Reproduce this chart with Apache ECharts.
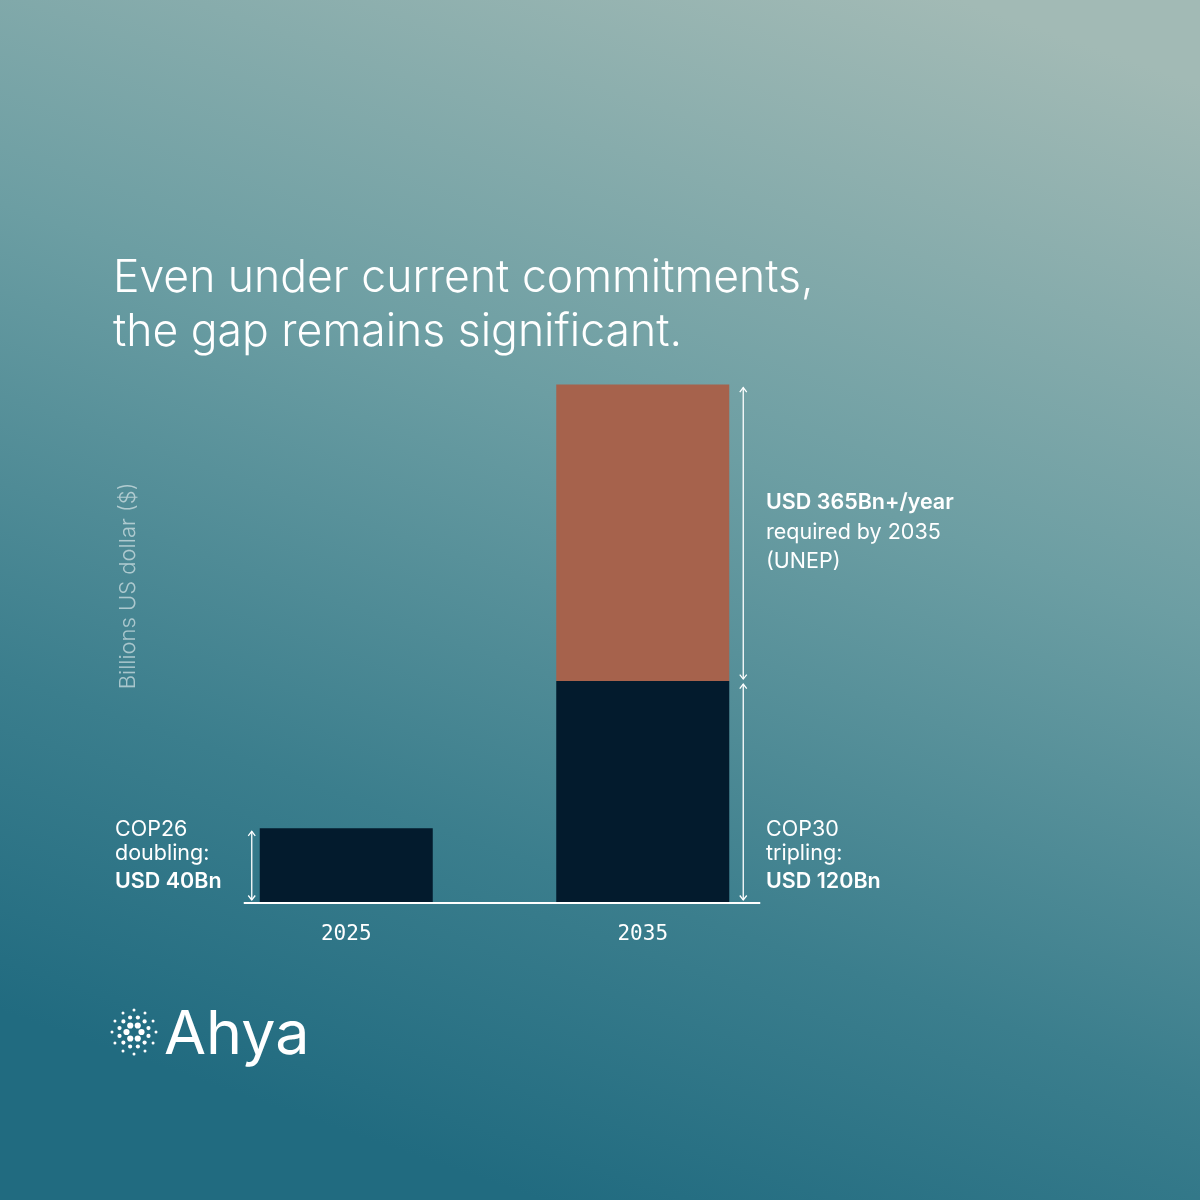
<!DOCTYPE html>
<html>
<head>
<meta charset="utf-8">
<script src="https://cdn.jsdelivr.net/npm/echarts@6/dist/echarts.min.js"></script>
<style>
  html, body { margin: 0; padding: 0; background: #4a8a96; }
  #chart { width: 1200px; height: 1200px; }
</style>
</head>
<body>
<div id="chart"></div>
<script>
// ==================== data ====================
const years = ['2025', '2035'];
const pledged = [40, 120];        // COP26 doubling / COP30 tripling
const shortfall = ['-', 161];     // drawn gap up to the UNEP need (bar as drawn, not to scale)
const titleLines = ['Even under current commitments,', 'the gap remains significant.'];
const yAxisName = 'Billions US dollar ($)';

const BAR_W = 173;
const FONT = 'Inter, "Noto Sans", sans-serif';
const MONO = '"DejaVu Sans Mono", "Liberation Mono", monospace';

// arrow spans derived from the bar data: [category, from, to, side]
const spans = [];
years.forEach((y, i) => {
  const side = i === 0 ? -1 : 1;
  spans.push([i, 0, pledged[i], side]);
  if (shortfall[i] !== '-') spans.push([i, pledged[i], pledged[i] + shortfall[i], side]);
});

const chart = echarts.init(document.getElementById('chart'), null, { renderer: 'canvas' });

function renderArrow(params, api) {
  const c = api.value(0);
  const side = api.value(3);
  const top = api.coord([c, api.value(2)]);
  const bot = api.coord([c, api.value(1)]);
  const x = top[0] + side * (BAR_W / 2 + (side < 0 ? 8 : 14));
  const y0 = top[1] + 3;
  const y1 = bot[1] - 2;
  const style = { stroke: '#ffffff', lineWidth: 1.3, fill: null };
  return {
    type: 'group',
    children: [
      { type: 'line', shape: { x1: x, y1: y0, x2: x, y2: y1 }, style },
      { type: 'polyline', shape: { points: [[x - 3.5, y0 + 4.5], [x, y0], [x + 3.5, y0 + 4.5]] }, style },
      { type: 'polyline', shape: { points: [[x - 3.5, y1 - 4.5], [x, y1], [x + 3.5, y1 - 4.5]] }, style }
    ]
  };
}

// logo dots
function logoDots(cx, cy) {
  const dots = [];
  const rings = [
    { r: 7.5, n: 6, size: 3.1, rot: 0 },
    { r: 15, n: 12, size: 2.1, rot: 15 },
    { r: 22, n: 12, size: 1.5, rot: 0 }
  ];
  rings.forEach(ring => {
    for (let k = 0; k < ring.n; k++) {
      const a = (ring.rot + k * 360 / ring.n) * Math.PI / 180;
      dots.push({
        type: 'circle',
        shape: { cx: cx + ring.r * Math.cos(a), cy: cy + ring.r * Math.sin(a), r: ring.size },
        style: { fill: '#ffffff' }
      });
    }
  });
  return dots;
}

function txt(id, x, y, text, opts = {}) {
  return {
    id, type: 'text', x, y,
    style: Object.assign({
      text, fill: '#ffffff', font: `400 21.5px ${FONT}`,
      textAlign: 'left', textVerticalAlign: 'middle'
    }, opts)
  };
}

const bold = { font: `600 21.5px ${FONT}` };
const titleFont = { font: `300 44.5px ${FONT}` };

chart.setOption({
  backgroundColor: new echarts.graphic.LinearGradient(0.8, 0, 0.45, 1, [
    { offset: 0, color: '#a2bab5' },
    { offset: 0.4, color: '#6c9ea3' },
    { offset: 0.75, color: '#3b7e8d' },
    { offset: 1, color: '#216b80' }
  ]),
  animation: false,
  grid: { left: 198, right: 409, top: 368, bottom: 298 },
  xAxis: {
    type: 'category',
    data: years,
    axisLine: { show: false },
    axisTick: { show: false },
    axisLabel: { color: '#ffffff', fontFamily: MONO, fontSize: 21, margin: 22 }
  },
  yAxis: {
    type: 'value',
    min: 0,
    max: 290,
    show: false
  },
  series: [
    {
      name: 'Pledged',
      type: 'bar',
      stack: 'total',
      barWidth: BAR_W,
      data: pledged,
      itemStyle: { color: '#031b2d' }
    },
    {
      name: 'Shortfall',
      type: 'bar',
      stack: 'total',
      barWidth: BAR_W,
      data: shortfall,
      itemStyle: { color: '#a6624c' }
    },
    {
      name: 'Spans',
      type: 'custom',
      renderItem: renderArrow,
      encode: { x: 0, y: [1, 2] },
      data: spans,
      z: 5
    }
  ],
  graphic: [
    txt('t1', 113, 279, titleLines[0], titleFont),
    txt('t2', 113, 333, titleLines[1], titleFont),
    {
      id: 'yname', type: 'text', x: 128, y: 586, rotation: Math.PI / 2,
      style: {
        text: yAxisName, fill: 'rgba(255,255,255,0.55)', font: `300 22px ${FONT}`,
        textAlign: 'center', textVerticalAlign: 'middle'
      }
    },
    txt('a1', 115, 830, 'COP26'),
    txt('a2', 115, 854, 'doubling:'),
    txt('a3', 115, 882, 'USD 40Bn', bold),
    txt('b1', 766, 830, 'COP30'),
    txt('b2', 766, 854, 'tripling:'),
    txt('b3', 766, 882, 'USD 120Bn', bold),
    txt('c1', 766, 503, 'USD 365Bn+/year', bold),
    txt('c2', 766, 533, 'required by 2035'),
    txt('c3', 766, 562, '(UNEP)'),
    { id: 'logo', type: 'group', children: logoDots(134, 1032) },
    txt('brand', 164, 1036, 'Ahya', { font: `400 61px ${FONT}` })
  ]
});

// baseline, placed from the axis zero
const zero = chart.convertToPixel({ gridIndex: 0 }, [0, 0]);
const c0 = chart.convertToPixel({ xAxisIndex: 0 }, 0);
const c1 = chart.convertToPixel({ xAxisIndex: 0 }, 1);
chart.setOption({
  graphic: [{
    id: 'baseline',
    type: 'line',
    z: 10,
    shape: { x1: c0 - BAR_W / 2 - 16, y1: zero[1] + 1, x2: c1 + BAR_W / 2 + 31, y2: zero[1] + 1 },
    style: { stroke: '#ffffff', lineWidth: 2 }
  }]
});
</script>
</body>
</html>
